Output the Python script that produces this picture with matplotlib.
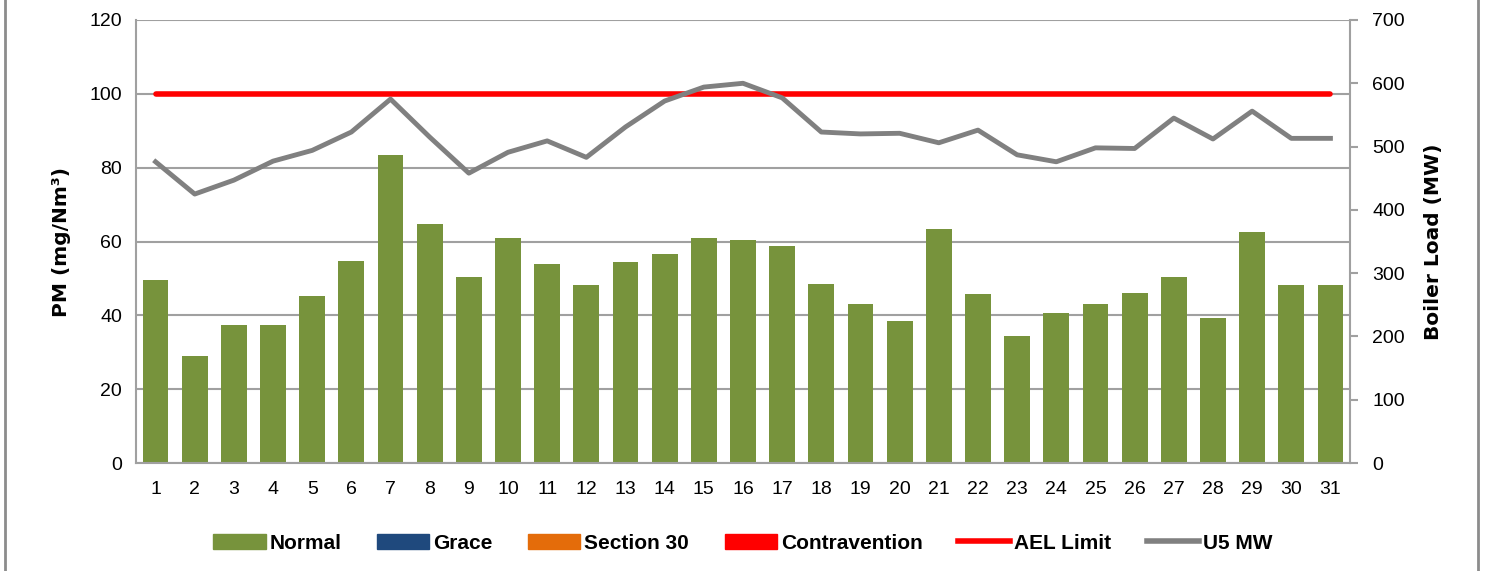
import numpy as np
import matplotlib.pyplot as plt
from matplotlib.patches import Patch, Rectangle
from matplotlib.lines import Line2D

plt.rcParams['font.family'] = ['Liberation Sans', 'DejaVu Sans']

days = np.arange(1, 32)
normal = [49.5, 29, 37.5, 37.5, 45.3, 54.8, 83.3, 64.8, 50.5, 61, 54, 48.3, 54.5, 56.5, 61, 60.5,
          58.7, 48.5, 43.2, 38.5, 63.5, 45.7, 34.3, 40.7, 43.2, 46, 50.4, 39.2, 62.5, 48.2, 48.2]
grace = [0] * 31
section30 = [0] * 31
contravention = [0] * 31
ael_limit = [100] * 31
u5_mw = [476, 425, 447, 477, 494, 523, 575, 515, 458, 491, 509, 483, 531, 572, 594, 600,
         577, 523, 520, 521, 506, 526, 487, 476, 498, 497, 545, 512, 556, 513, 513]

green = '#77933C'
blue = '#1F497D'
orange = '#E46C0A'
red = '#FF0000'
grey = '#808080'

fig = plt.figure(figsize=(14.86, 5.71), dpi=100)
ax = fig.add_axes([0.0915, 0.189, 0.817, 0.776])

ax.bar(days, normal, width=0.66, color=green, zorder=2)
bottom = np.array(normal, dtype=float)
for vals, col in [(grace, blue), (section30, orange), (contravention, red)]:
    ax.bar(days, vals, width=0.66, bottom=bottom, color=col, linewidth=0, zorder=2)
    bottom += np.array(vals)
ax.plot(days, ael_limit, color=red, lw=4, solid_capstyle='round', zorder=4)

ax.set_xlim(0.5, 31.5)
ax.set_ylim(0, 120)
ax.set_yticks(range(0, 121, 20))
ax.set_xticks(days)
ax.grid(axis='y', color='#A0A0A0', lw=1.5, zorder=0)
ax.tick_params(axis='y', length=0, labelsize=14, pad=10)
ax.tick_params(axis='x', length=0, labelsize=14, pad=13)
for s in ax.spines.values():
    s.set_color('#A0A0A0')
    s.set_linewidth(1.5)
ax.spines['top'].set_visible(False)
ax.set_ylabel('PM (mg/Nm³)', fontsize=14.5, fontweight='bold', family='DejaVu Sans', labelpad=13)

ax2 = ax.twinx()
ax2.plot(days, u5_mw, color=grey, lw=3.5, zorder=3)
ax2.set_ylim(0, 700)
ax2.set_yticks(range(0, 701, 100))
ax2.tick_params(axis='y', length=6, color='#A0A0A0', width=1.5, labelsize=14, pad=10)
for s in ax2.spines.values():
    s.set_visible(False)
ax2.set_ylabel('Boiler Load (MW)', fontsize=14.5, fontweight='bold', family='DejaVu Sans', labelpad=14)

handles = [Patch(color=green), Patch(color=blue), Patch(color=orange), Patch(color=red),
           Line2D([], [], color=red, lw=4), Line2D([], [], color=grey, lw=4)]
labels = ['Normal', 'Grace', 'Section 30', 'Contravention', 'AEL Limit', 'U5 MW']
fig.legend(handles, labels, loc='center', bbox_to_anchor=(0.5, 0.049), ncol=6, frameon=False,
           prop={'weight': 'bold', 'size': 15}, handlelength=2.5, handleheight=0.75,
           handletextpad=0.2, columnspacing=1.7)

fig.patches.append(Rectangle((0.0035, -0.05), 0.991, 1.1, transform=fig.transFigure,
                             fill=False, edgecolor='#8C8C8C', lw=2))

fig.savefig('out.png', dpi=100)
